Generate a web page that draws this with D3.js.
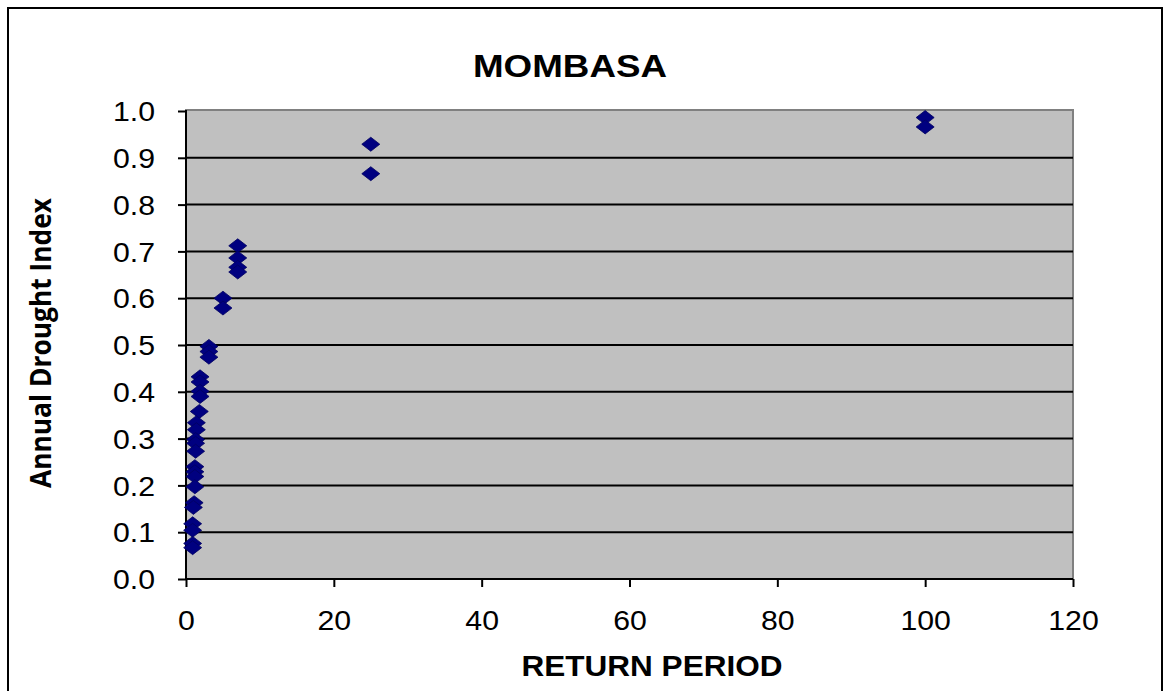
<!DOCTYPE html>
<html>
<head>
<meta charset="utf-8">
<script src="https://cdn.jsdelivr.net/npm/d3@7"></script>
<style>
  html, body { margin: 0; padding: 0; background: #fff; }
  svg { display: block; }
</style>
</head>
<body>
<svg id="chart" width="1168" height="691"></svg>
<script>
// Return period (years) of each annual drought event
const returnPeriod = [
  100, 100,
  25, 25,
  7, 7, 7, 7,
  5, 5,
  3.1, 3.1, 3.1,
  1.9, 1.9, 1.9, 1.9,
  1.8,
  1.4, 1.4, 1.3, 1.3, 1.3,
  1.2, 1.2, 1.2, 1.2,
  1.1, 1.0,
  0.9, 0.9,
  0.9, 0.9
];
// Annual drought index of each event
const droughtIndex = [
  0.986, 0.966,
  0.929, 0.866,
  0.712, 0.686, 0.666, 0.656,
  0.600, 0.579,
  0.497, 0.486, 0.474,
  0.432, 0.421, 0.401, 0.390,
  0.358,
  0.334, 0.319, 0.298, 0.290, 0.273,
  0.240, 0.229, 0.219, 0.197,
  0.163, 0.153,
  0.118, 0.104,
  0.076, 0.067
];
const xTicks = [0, 20, 40, 60, 80, 100, 120];
const yTicks = [0, 0.1, 0.2, 0.3, 0.4, 0.5, 0.6, 0.7, 0.8, 0.9, 1.0];

const svg = d3.select("#chart");
const plot = { left: 186, right: 1073, top: 111, bottom: 579 };

const x = d3.scaleLinear().domain([0, 120]).range([plot.left, plot.right]);
const y = d3.scaleLinear().domain([0, 1]).range([plot.bottom, plot.top]);

// outer chart frame
svg.append("rect")
  .attr("x", 8).attr("y", 8).attr("width", 1154).attr("height", 720)
  .attr("fill", "#fff").attr("stroke", "#000").attr("stroke-width", 2);

// plot area
svg.append("rect")
  .attr("x", plot.left).attr("y", plot.top - 1)
  .attr("width", plot.right - plot.left).attr("height", plot.bottom - plot.top + 1)
  .attr("fill", "#c0c0c0").attr("stroke", "#808080").attr("stroke-width", 2);

// horizontal gridlines
svg.append("g")
  .selectAll("line")
  .data(yTicks.filter(d => d > 0 && d < 1))
  .join("line")
  .attr("x1", plot.left).attr("x2", plot.right)
  .attr("y1", d => y(d)).attr("y2", d => y(d))
  .attr("stroke", "#000").attr("stroke-width", 2);

// axes
const yAxis = svg.append("g")
  .attr("transform", `translate(${plot.left},0)`)
  .call(d3.axisLeft(y).tickValues(yTicks).tickFormat(d3.format(".1f")).tickSize(8).tickPadding(23));
const xAxis = svg.append("g")
  .attr("transform", `translate(0,${plot.bottom})`)
  .call(d3.axisBottom(x).tickValues(xTicks).tickFormat(d3.format("d")).tickSize(8).tickPadding(24));

[yAxis, xAxis].forEach(g => {
  g.select(".domain").attr("stroke", "#000").attr("stroke-width", 2);
  g.selectAll(".tick line").attr("stroke", "#000").attr("stroke-width", 2);
  g.selectAll("text")
    .attr("fill", "#000")
    .style("font-family", "'Liberation Sans', Arial, sans-serif")
    .style("font-size", "27px")
    .attr("lengthAdjust", "spacingAndGlyphs")
    // slightly wide lettering
    .attr("textLength", function () { return this.getComputedTextLength() * 1.12; });
});
yAxis.selectAll("text").attr("dy", "0.36em");
// axis lines without the outer tick stubs
yAxis.select(".domain").attr("d", `M0,${plot.top - 1}V${plot.bottom}`);
xAxis.select(".domain").attr("d", `M${plot.left},0H${plot.right}`);

// data markers: diamonds
const diamond = "M0,-7L9,0L0,7L-9,0Z";
svg.append("g")
  .selectAll("path")
  .data(returnPeriod.map((t, i) => ({ t, v: droughtIndex[i] })))
  .join("path")
  .attr("d", diamond)
  .attr("transform", d => `translate(${x(d.t)},${y(d.v)})`)
  .attr("fill", "#000080")
  .attr("stroke", "#000060")
  .attr("stroke-width", 0.8);

// title
svg.append("text")
  .attr("x", 570).attr("y", 77)
  .attr("text-anchor", "middle")
  .attr("textLength", 194).attr("lengthAdjust", "spacingAndGlyphs")
  .style("font-family", "'Liberation Sans', Arial, sans-serif")
  .style("font-weight", "bold").style("font-size", "32px")
  .text("MOMBASA");

// x-axis title
svg.append("text")
  .attr("x", 652).attr("y", 676)
  .attr("text-anchor", "middle")
  .attr("textLength", 261).attr("lengthAdjust", "spacingAndGlyphs")
  .style("font-family", "'Liberation Sans', Arial, sans-serif")
  .style("font-weight", "bold").style("font-size", "29px")
  .text("RETURN PERIOD");

// y-axis title
svg.append("text")
  .attr("transform", "translate(51,343) rotate(-90)")
  .attr("text-anchor", "middle")
  .attr("textLength", 290).attr("lengthAdjust", "spacingAndGlyphs")
  .style("font-family", "'Liberation Sans Narrow', 'Open Sans', Arial, sans-serif")
  .style("font-weight", "bold").style("font-size", "28px")
  .text("Annual Drought Index");
</script>
</body>
</html>
